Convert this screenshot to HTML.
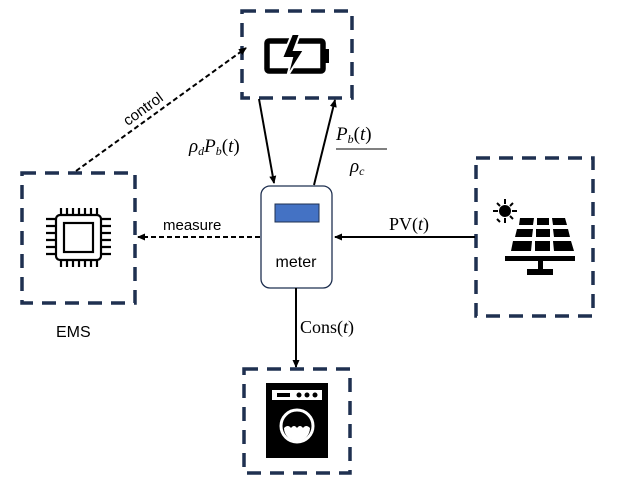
<!DOCTYPE html>
<html><head><style>body{margin:0;background:#fff}</style></head><body>
<svg width="621" height="491" viewBox="0 0 621 491" xmlns="http://www.w3.org/2000/svg" font-family="Liberation Serif, serif">
<defs><marker id="a" markerWidth="8" markerHeight="8" refX="7" refY="4" orient="auto" markerUnits="userSpaceOnUse"><path d="M0,0.5 L8,4 L0,7.5 z" fill="#000"/></marker></defs>
<g fill="none" stroke="#1f3050" stroke-width="3.5" stroke-dasharray="14,9">
<rect x="242" y="11" width="110" height="87"/>
<rect x="22" y="173" width="113" height="130"/>
<rect x="476" y="158" width="117" height="158"/>
<rect x="244" y="369" width="106" height="104"/>
</g>
<!-- battery -->
<rect x="267" y="41" width="56" height="30" rx="2" fill="none" stroke="#000" stroke-width="5.5"/>
<rect x="323" y="49" width="6" height="14" fill="#000"/>
<path d="M292,34 L282,58 L292,58 L287,77 L304,50 L294,50 L300,34z" fill="#000" stroke="#fff" stroke-width="2"/>
<!-- chip -->
<rect x="56" y="215" width="45" height="45" rx="4" fill="none" stroke="#000" stroke-width="2.2"/>
<rect x="64" y="223" width="29" height="29" fill="none" stroke="#000" stroke-width="2.2"/>
<g stroke="#000" stroke-width="2.2">
<path d="M61,208v7M67,208v7M73,208v7M79,208v7M85,208v7M91,208v7M97,208v7M61,260v7M67,260v7M73,260v7M79,260v7M85,260v7M91,260v7M97,260v7M46,219h10M46,226h10M46,233h10M46,240h10M46,247h10M46,254h10M101,219h10M101,226h10M101,233h10M101,240h10M101,247h10M101,254h10"/>
</g>
<text x="56" y="337" font-family="Liberation Sans, sans-serif" font-size="16">EMS</text>
<!-- PV -->
<circle cx="505" cy="211" r="6" fill="#000"/>
<g stroke="#000" stroke-width="2"><path d="M505,199v5M505,218v5M493,211h5M512,211h5M497,203l3,3M510,216l3,3M513,203l-3,3M497,219l3,3"/></g>
<g fill="#000">
<path d="M520,218h14l-1,7h-14zM537,218h12l0,7h-12zM552,218h13l2,7h-14z"/>
<path d="M517,229h16l-1,8h-17zM536,229h14v8h-14zM553,229h15l2,8h-16z"/>
<path d="M513,241h19l-1,10h-20zM535,241h15v10h-15zM553,241h18l3,10h-20z"/>
<rect x="505" y="256" width="70" height="5"/>
<rect x="538" y="261" width="5" height="8"/>
<rect x="527" y="269" width="26" height="6"/>
</g>
<!-- washer -->
<rect x="266" y="383" width="62" height="75" fill="#000"/>
<rect x="272" y="390" width="50" height="10" fill="#fff"/>
<rect x="277" y="393" width="13" height="4" fill="#000"/>
<circle cx="299" cy="395" r="2.5" fill="#000"/><circle cx="307" cy="395" r="2.5" fill="#000"/><circle cx="315" cy="395" r="2.5" fill="#000"/>
<circle cx="297" cy="426" r="16" fill="none" stroke="#fff" stroke-width="3"/>
<path d="M284,428 q4,-4 7,0 q3,-4 6,0 q3,-4 6,0 q3,-4 7,0 a13,13 0 0 1 -26,0z" fill="#fff"/>
<!-- meter -->
<rect x="261" y="186" width="71" height="102" rx="9" fill="#fff" stroke="#1f3050" stroke-width="1.3"/>
<rect x="275" y="204" width="44" height="18" fill="#4472c4" stroke="#1f3050" stroke-width="1"/>
<text x="296" y="267" text-anchor="middle" font-family="Liberation Sans, sans-serif" font-size="16">meter</text>
<!-- connectors -->
<g stroke="#000" stroke-width="2" fill="none">
<line x1="259" y1="99" x2="274" y2="183" marker-end="url(#a)"/>
<line x1="314" y1="185" x2="335" y2="100" marker-end="url(#a)"/>
<line x1="475" y1="237" x2="335" y2="237" marker-end="url(#a)"/>
<line x1="296" y1="288" x2="296" y2="367" marker-end="url(#a)"/>
<line x1="260" y1="237" x2="138" y2="237" stroke-dasharray="5,3" marker-end="url(#a)"/>
<line x1="76" y1="171" x2="246" y2="48" stroke-dasharray="5,3" marker-end="url(#a)"/>
</g>
<text x="0" y="0" text-anchor="middle" font-family="Liberation Sans, sans-serif" font-size="15" transform="translate(146,113) rotate(-36)">control</text>
<text x="163" y="230" font-family="Liberation Sans, sans-serif" font-size="15">measure</text>
<text x="189" y="152" font-size="19" font-style="italic">ρ<tspan font-size="12" dy="3">d</tspan><tspan dy="-3">P</tspan><tspan font-size="12" dy="3">b</tspan><tspan dy="-3" font-style="normal">(</tspan>t<tspan font-style="normal">)</tspan></text>
<text x="336" y="140" font-size="19" font-style="italic">P<tspan font-size="12" dy="3">b</tspan><tspan dy="-3" font-style="normal">(</tspan>t<tspan font-style="normal">)</tspan></text>
<line x1="336" y1="149" x2="387" y2="149" stroke="#000" stroke-width="1"/>
<text x="350" y="172" font-size="19" font-style="italic">ρ<tspan font-size="12" dy="3">c</tspan></text>
<text x="389" y="230" font-size="18">PV(<tspan font-style="italic">t</tspan>)</text>
<text x="300" y="333" font-size="18">Cons(<tspan font-style="italic">t</tspan>)</text>
</svg>
</body></html>
